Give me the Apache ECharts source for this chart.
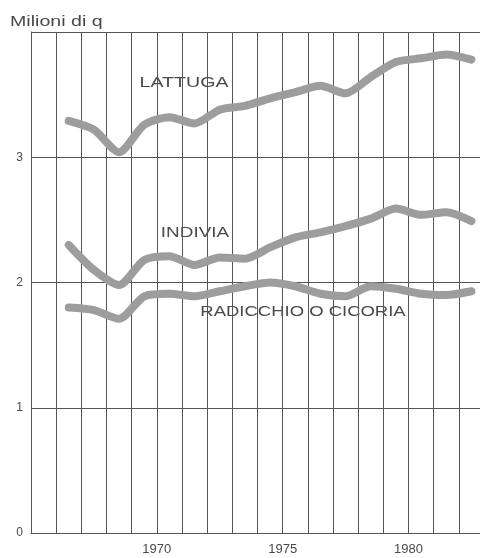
<!DOCTYPE html>
<html>
<head>
<meta charset="utf-8">
<script src="https://cdn.jsdelivr.net/npm/echarts@6/dist/echarts.min.js"></script>
<style>html,body{margin:0;padding:0;background:#fff}#c{width:480px;height:558px}</style>
</head>
<body>
<div id="c"></div>
<script>
// Years shown (one band per year); data begin in 1966
const years = [1966,1967,1968,1969,1970,1971,1972,1973,1974,1975,1976,1977,1978,1979,1980,1981,1982];
const firstBandYear = 1965;
const lattuga =   [3.29,3.22,3.04,3.26,3.32,3.27,3.38,3.41,3.47,3.52,3.57,3.51,3.64,3.76,3.79,3.82,3.78];
const indivia =   [2.30,2.10,1.98,2.18,2.21,2.14,2.20,2.19,2.28,2.36,2.40,2.45,2.51,2.59,2.54,2.56,2.49];
const radicchio = [1.80,1.78,1.71,1.89,1.91,1.89,1.93,1.97,2.00,1.97,1.91,1.89,1.97,1.95,1.91,1.90,1.93];
const yTicks = [0,1,2,3];
const xTickLabels = [1970,1975,1980];
const seriesNames = ['LATTUGA','INDIVIA','RADICCHIO O CICORIA'];

const categories = [String(firstBandYear)].concat(years.map(String));
const pad = arr => [null].concat(arr);

const chart = echarts.init(document.getElementById('c'), null, {renderer:'canvas'});
const gridColor = '#555555';
const textColor = '#4a4a4a';
const lineColor = '#9d9d9d';
const font = 'Liberation Sans, Arial, sans-serif';

function mkSeries(name, data){
  return {
    name, type:'line', xAxisIndex:0, yAxisIndex:0,
    data: pad(data), showSymbol:false, smooth:0.25,
    lineStyle:{width:8, color:lineColor, cap:'round', join:'round'},
    connectNulls:false, silent:true, z:3
  };
}

chart.setOption({
  animation:false,
  backgroundColor:'#fff',
  grid:{left:31, width:453, top:32, bottom:25, outerBoundsMode:'none', containLabel:false},
  xAxis:[
    {type:'category', data:categories, boundaryGap:true,
     axisLine:{show:true, lineStyle:{color:gridColor, width:1}},
     axisTick:{show:false, interval:0}, axisLabel:{show:false, interval:0},
     splitLine:{show:true, interval:0, lineStyle:{color:gridColor, width:1}}},
    {type:'value', min:firstBandYear, max:years[years.length-1]+1, interval:5, position:'bottom',
     axisLine:{show:false}, axisTick:{show:false}, splitLine:{show:false},
     axisLabel:{margin:10, color:textColor, fontSize:13, fontFamily:font,
       formatter:v => xTickLabels.indexOf(v) >= 0 ? String(v) : ''}}
  ],
  yAxis:{type:'value', min:0, max:4, interval:1,
    axisLine:{show:true, lineStyle:{color:gridColor, width:1}},
    axisTick:{show:false},
    axisLabel:{margin:8, color:textColor, fontSize:12, fontFamily:font,
      formatter:v => yTicks.indexOf(v) >= 0 ? String(v) : ''},
    splitLine:{show:true, lineStyle:{color:gridColor, width:1}}},
  series:[mkSeries(seriesNames[0], lattuga), mkSeries(seriesNames[1], indivia), mkSeries(seriesNames[2], radicchio)],
  graphic:[
    {type:'text', x:10, y:22, scaleX:1.4, style:{text:'Milioni di q', fill:textColor, font:'14px ' + font, align:'left', verticalAlign:'middle'}},
    {type:'text', x:184, y:83, scaleX:1.4, style:{text:seriesNames[0], fill:textColor, font:'14px ' + font, align:'center', verticalAlign:'middle'}},
    {type:'text', x:195, y:233, scaleX:1.35, style:{text:seriesNames[1], fill:textColor, font:'14px ' + font, align:'center', verticalAlign:'middle'}},
    {type:'text', x:303, y:312, scaleX:1.32, style:{text:seriesNames[2], fill:textColor, font:'14px ' + font, align:'center', verticalAlign:'middle'}}
  ]
});
</script>
</body>
</html>
